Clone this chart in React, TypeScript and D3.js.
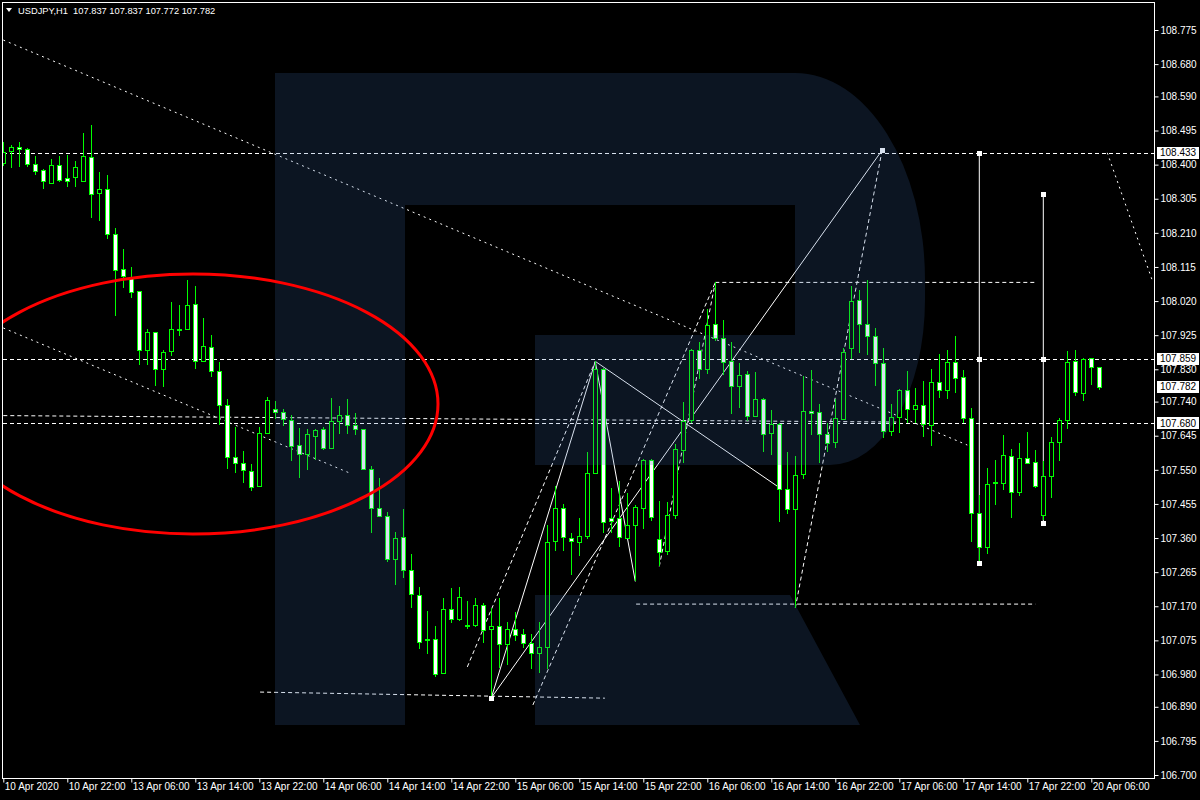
import { useEffect, useRef } from 'react';
import * as d3 from 'd3';

// USDJPY H1, bars from 10 Apr 2020 14:00 to 20 Apr 2020 07:00
const opens = [
  108.405, 108.439, 108.449, 108.444, 108.402, 108.385, 108.349, 108.399, 108.363, 108.366,
  108.354, 108.420, 108.319, 108.331, 108.206, 108.108, 108.088, 108.047, 107.882, 107.933,
  107.830, 107.880, 107.941, 107.941, 108.011, 107.852, 107.891, 107.824, 107.730, 107.585,
  107.568, 107.546, 107.504, 107.652, 107.719, 107.710, 107.688, 107.618, 107.593, 107.646,
  107.663, 107.610, 107.685, 107.702, 107.674, 107.663, 107.551, 107.443, 107.420, 107.301,
  107.362, 107.270, 107.202, 107.078, 107.078, 106.983, 107.161, 107.134, 107.117, 107.117,
  107.173, 107.106, 107.114, 107.064, 107.108, 107.092, 107.067, 107.039, 107.056, 107.351,
  107.443, 107.359, 107.348, 107.365, 107.540, 107.830, 107.415, 107.415, 107.359, 107.395,
  107.443, 107.576, 107.356, 107.323, 107.423, 107.607, 107.687, 107.883, 107.830, 107.955,
  107.916, 107.852, 107.783, 107.816, 107.699, 107.746, 107.652, 107.677, 107.496, 107.440,
  107.537, 107.713, 107.710, 107.649, 107.627, 107.691, 107.888, 108.022, 107.955, 107.922,
  107.847, 107.657, 107.696, 107.771, 107.719, 107.730, 107.674, 107.794, 107.771, 107.849,
  107.808, 107.693, 107.429, 107.334, 107.515, 107.512, 107.588, 107.487, 107.582, 107.571,
  107.423, 107.532, 107.627, 107.688, 107.852, 107.766, 107.861, 107.837,
];
const highs = [
  108.464, 108.455, 108.464, 108.447, 108.424, 108.388, 108.416, 108.424, 108.427, 108.410,
  108.488, 108.510, 108.379, 108.371, 108.224, 108.165, 108.116, 108.049, 107.942, 107.935,
  107.885, 108.017, 108.009, 108.079, 108.062, 107.972, 107.925, 107.849, 107.746, 107.669,
  107.602, 107.565, 107.668, 107.753, 107.741, 107.719, 107.702, 107.666, 107.663, 107.664,
  107.668, 107.749, 107.727, 107.746, 107.707, 107.665, 107.562, 107.526, 107.432, 107.376,
  107.440, 107.315, 107.225, 107.156, 107.114, 107.192, 107.220, 107.223, 107.184, 107.192,
  107.178, 107.164, 107.192, 107.125, 107.153, 107.106, 107.092, 107.125, 107.395, 107.506,
  107.454, 107.373, 107.415, 107.601, 107.852, 107.834, 107.498, 107.518, 107.485, 107.452,
  107.579, 107.579, 107.462, 107.459, 107.621, 107.738, 107.886, 107.905, 107.997, 108.072,
  107.966, 107.905, 107.847, 107.824, 107.822, 107.750, 107.716, 107.680, 107.599, 107.588,
  107.810, 107.827, 107.732, 107.680, 107.746, 107.888, 108.061, 108.050, 108.078, 107.944,
  107.888, 107.732, 107.774, 107.824, 107.777, 107.797, 107.830, 107.872, 107.883, 107.922,
  107.827, 107.721, 107.479, 107.554, 107.576, 107.646, 107.607, 107.624, 107.654, 107.604,
  107.574, 107.641, 107.693, 107.880, 107.883, 107.862, 107.862, 107.837,
];
const lows = [
  108.397, 108.391, 108.394, 108.394, 108.371, 108.333, 108.346, 108.352, 108.339, 108.339,
  108.352, 108.251, 108.244, 108.194, 107.979, 108.057, 108.029, 107.842, 107.842, 107.783,
  107.781, 107.868, 107.924, 107.939, 107.830, 107.850, 107.808, 107.674, 107.553, 107.542,
  107.513, 107.490, 107.502, 107.650, 107.691, 107.671, 107.574, 107.526, 107.549, 107.576,
  107.604, 107.608, 107.649, 107.649, 107.646, 107.549, 107.373, 107.418, 107.292, 107.228,
  107.248, 107.164, 107.050, 107.036, 106.972, 106.981, 107.122, 107.128, 107.106, 107.111,
  107.067, 106.914, 106.997, 107.005, 107.072, 107.053, 106.994, 106.983, 106.994, 107.323,
  107.323, 107.256, 107.309, 107.356, 107.538, 107.373, 107.373, 107.334, 107.356, 107.239,
  107.384, 107.407, 107.281, 107.312, 107.412, 107.568, 107.680, 107.802, 107.816, 107.908,
  107.813, 107.705, 107.721, 107.685, 107.697, 107.601, 107.590, 107.404, 107.426, 107.165,
  107.524, 107.646, 107.568, 107.601, 107.610, 107.689, 107.858, 107.875, 107.869, 107.783,
  107.638, 107.643, 107.652, 107.680, 107.680, 107.641, 107.615, 107.749, 107.746, 107.763,
  107.680, 107.348, 107.290, 107.315, 107.451, 107.493, 107.415, 107.476, 107.566, 107.498,
  107.410, 107.471, 107.574, 107.663, 107.755, 107.741, 107.785, 107.772,
];
const closes = [
  108.436, 108.449, 108.443, 108.403, 108.383, 108.355, 108.399, 108.357, 108.355, 108.393,
  108.424, 108.317, 108.331, 108.206, 108.105, 108.088, 108.047, 107.883, 107.933, 107.830,
  107.877, 107.941, 107.940, 108.008, 107.852, 107.894, 107.824, 107.730, 107.585, 107.568,
  107.549, 107.501, 107.652, 107.744, 107.710, 107.691, 107.615, 107.593, 107.649, 107.662,
  107.610, 107.685, 107.702, 107.674, 107.663, 107.551, 107.443, 107.420, 107.301, 107.359,
  107.270, 107.202, 107.072, 107.075, 106.980, 107.161, 107.134, 107.195, 107.113, 107.173,
  107.103, 107.114, 107.064, 107.106, 107.092, 107.067, 107.039, 107.056, 107.348, 107.443,
  107.362, 107.351, 107.365, 107.540, 107.830, 107.404, 107.407, 107.362, 107.395, 107.446,
  107.576, 107.418, 107.320, 107.423, 107.607, 107.687, 107.883, 107.830, 107.952, 107.916,
  107.849, 107.783, 107.813, 107.699, 107.746, 107.649, 107.677, 107.496, 107.440, 107.535,
  107.713, 107.707, 107.649, 107.624, 107.693, 107.877, 108.019, 107.955, 107.922, 107.847,
  107.657, 107.696, 107.771, 107.719, 107.730, 107.677, 107.794, 107.771, 107.849, 107.805,
  107.693, 107.429, 107.334, 107.510, 107.512, 107.590, 107.487, 107.582, 107.569, 107.504,
  107.532, 107.627, 107.688, 107.849, 107.766, 107.860, 107.835, 107.782,
];

// one label every 8 bars
const timeLabels = [
  '10 Apr 2020', '10 Apr 22:00', '13 Apr 06:00', '13 Apr 14:00', '13 Apr 22:00',
  '14 Apr 06:00', '14 Apr 14:00', '14 Apr 22:00', '15 Apr 06:00', '15 Apr 14:00',
  '15 Apr 22:00', '16 Apr 06:00', '16 Apr 14:00', '16 Apr 22:00', '17 Apr 06:00',
  '17 Apr 14:00', '17 Apr 22:00', '20 Apr 06:00',
];
const priceTicks = [
  108.775, 108.68, 108.59, 108.495, 108.4, 108.305, 108.21, 108.115, 108.02, 107.925,
  107.83, 107.74, 107.645, 107.55, 107.455, 107.36, 107.265, 107.17, 107.075, 106.98,
  106.89, 106.795, 106.7,
];
const markedPrices = [108.433, 107.859, 107.782, 107.68];
const fullLevels = [108.433, 107.859, 107.68];

// drawn objects: [bar1, price1, bar2, price2]
const solidLines = [
  [61, 106.915, 109.85, 108.44],
  [61, 106.915, 74, 107.852],
  [74, 107.852, 79, 107.239],
  [74, 107.852, 97.1, 107.499],
  [122, 108.433, 122, 107.29],
  [130, 108.318, 130, 107.402],
];
const dashedLines = [
  [0, 107.701, 112.1, 107.683],
  [32.1, 106.931, 75.2, 106.914],
  [58, 107.001, 74, 107.852],
  [66.2, 106.895, 89, 108.072],
  [82, 107.281, 89, 108.072],
  [89, 108.072, 129.2, 108.072],
  [79.1, 107.176, 129, 107.176],
  [99, 107.165, 109.85, 108.44],
];
const dottedLines = [
  [0, 108.747, 120.5, 107.619],
  [0, 107.945, 43.3, 107.541],
  [138, 108.433, 143.6, 108.079],
];
const markers = [
  [61, 106.915], [109.85, 108.44], [122, 108.433], [122, 107.859], [122, 107.29],
  [130, 108.318], [130, 107.859], [130, 107.402],
];

const FONT = '"Liberation Sans", Arial, sans-serif';

export default function App() {
  const svgRef = useRef<SVGSVGElement | null>(null);

  useEffect(() => {
    document.body.style.margin = '0';
    document.body.style.background = '#000';
    if (!svgRef.current) return;
    const svg = d3.select(svgRef.current);
    svg.selectAll('*').remove();

    const left = 3;
    const right = 1155;
    const top = 3;
    const bottom = 779;

    const x = d3.scaleLinear().domain([0, 144]).range([3.3, 1155.3]);
    const y = d3.scaleLinear().domain([106.7, 108.775]).range([775, 30]);
    const px = (i: number) => Math.round(x(i)) + 0.5;

    svg.append('rect').attr('width', 1200).attr('height', 800).attr('fill', '#000');

    svg
      .append('defs')
      .append('clipPath')
      .attr('id', 'plot')
      .append('rect')
      .attr('x', left)
      .attr('y', top)
      .attr('width', right - left)
      .attr('height', bottom - top);

    const plot = svg.append('g').attr('clip-path', 'url(#plot)');

    // horizontal levels
    plot
      .append('g')
      .selectAll('line')
      .data(fullLevels)
      .join('line')
      .attr('x1', left)
      .attr('x2', right)
      .attr('y1', (d) => Math.round(y(d)) + 0.5)
      .attr('y2', (d) => Math.round(y(d)) + 0.5)
      .attr('stroke', '#fff')
      .attr('stroke-dasharray', '4,3');

    const drawLines = (rows: number[][], dash: string | null) =>
      plot
        .append('g')
        .selectAll('line')
        .data(rows)
        .join('line')
        .attr('x1', (d) => x(d[0]))
        .attr('y1', (d) => y(d[1]))
        .attr('x2', (d) => x(d[2]))
        .attr('y2', (d) => y(d[3]))
        .attr('stroke', '#fff')
        .attr('stroke-width', 1)
        .attr('stroke-dasharray', dash);

    drawLines(dashedLines, '4,3');
    drawLines(dottedLines, '2,4');
    drawLines(solidLines, null);

    // candles
    const idx = d3.range(opens.length);
    const candles = plot.append('g').attr('shape-rendering', 'crispEdges');
    candles
      .selectAll('line')
      .data(idx)
      .join('line')
      .attr('x1', px)
      .attr('x2', px)
      .attr('y1', (i) => y(highs[i]))
      .attr('y2', (i) => y(lows[i]))
      .attr('stroke', '#00ff00');
    candles
      .selectAll('rect')
      .data(idx)
      .join('rect')
      .attr('x', (i) => px(i) - 2)
      .attr('width', 4)
      .attr('y', (i) => Math.round(y(Math.max(opens[i], closes[i]))) + 0.5)
      .attr('height', (i) =>
        Math.max(1, Math.round(Math.abs(y(opens[i]) - y(closes[i]))))
      )
      .attr('fill', (i) => (closes[i] > opens[i] ? '#000' : '#fff'))
      .attr('stroke', '#00ff00');

    plot
      .append('g')
      .selectAll('rect')
      .data(markers)
      .join('rect')
      .attr('x', (d) => Math.round(x(d[0])) - 2)
      .attr('y', (d) => Math.round(y(d[1])) - 2)
      .attr('width', 5)
      .attr('height', 5)
      .attr('fill', '#fff');

    // watermark
    plot
      .append('path')
      .attr(
        'd',
        'M275,73 H795 A130,207 0 0 1 925,280 V300 A95,165 0 0 1 830,465 H535 V335 H795 V205 H405 V725 H275 Z ' +
          'M535,595 H790 L860,725 H535 Z'
      )
      .attr('fill', '#3a6aa8')
      .attr('fill-opacity', 0.2);

    plot
      .append('ellipse')
      .attr('cx', 193)
      .attr('cy', 404)
      .attr('rx', 245)
      .attr('ry', 130)
      .attr('fill', 'none')
      .attr('stroke', '#ff0000')
      .attr('stroke-width', 3);

    // frame
    svg
      .append('rect')
      .attr('x', 2.5)
      .attr('y', 2.5)
      .attr('width', right - 3)
      .attr('height', bottom - 3)
      .attr('fill', 'none')
      .attr('stroke', '#fff');

    // price axis
    const yAxis = svg
      .append('g')
      .attr('transform', `translate(${right - 0.5},0)`)
      .call(
        d3
          .axisRight(y)
          .tickValues(priceTicks)
          .tickSize(4)
          .tickFormat((d) => d3.format('.3f')(d as number))
      );
    yAxis.select('.domain').remove();
    yAxis.selectAll('line').attr('stroke', '#fff');
    yAxis
      .selectAll('text')
      .attr('x', 6)
      .style('font-family', FONT)
      .style('font-size', '10px')
      .attr('fill', '#fff');

    const marks = svg.append('g');
    marks
      .selectAll('rect')
      .data(markedPrices)
      .join('rect')
      .attr('x', right + 2)
      .attr('y', (d) => Math.round(y(d)) - 6)
      .attr('width', 42)
      .attr('height', 12)
      .attr('fill', '#fff');
    marks
      .selectAll('text')
      .data(markedPrices)
      .join('text')
      .attr('x', right + 5)
      .attr('y', (d) => y(d))
      .attr('dy', '0.35em')
      .text((d) => d3.format('.3f')(d))
      .style('font-family', FONT)
      .style('font-size', '10px')
      .attr('fill', '#000');

    // time axis
    const xAxis = svg
      .append('g')
      .attr('transform', `translate(0,${bottom - 0.5})`)
      .call(
        d3
          .axisBottom(x)
          .tickValues(timeLabels.map((_, i) => i * 8))
          .tickSize(4)
          .tickFormat((_, i) => timeLabels[i])
      );
    xAxis.select('.domain').remove();
    xAxis.selectAll('line').attr('stroke', '#fff');
    xAxis
      .selectAll('text')
      .attr('text-anchor', 'start')
      .attr('x', 1)
      .attr('y', 4)
      .style('font-family', FONT)
      .style('font-size', '10px')
      .attr('fill', '#fff');

    // header
    svg
      .append('path')
      .attr('d', 'M6,8 L12,8 L9,12 Z')
      .attr('fill', '#fff');
    svg
      .append('text')
      .attr('x', 18)
      .attr('y', 14)
      .text('USDJPY,H1  107.837 107.837 107.772 107.782')
      .style('font-family', FONT)
      .style('font-size', '9.3px')
      .style('white-space', 'pre')
      .attr('fill', '#fff');
  }, []);

  return <svg ref={svgRef} width={1200} height={800} style={{ display: 'block' }} />;
}
